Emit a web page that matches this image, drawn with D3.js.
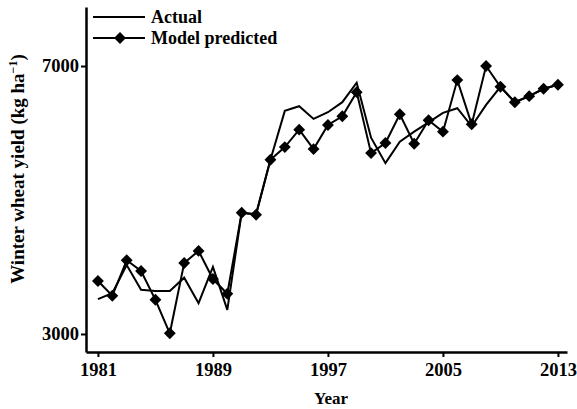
<!DOCTYPE html>
<html>
<head>
<meta charset="utf-8">
<script src="https://cdn.jsdelivr.net/npm/d3@7"></script>
<style>
  body { margin: 0; background: #fff; }
  text { font-family: "Liberation Serif", "Times New Roman", serif; }
</style>
</head>
<body>
<div id="chart"></div>
<script>
// data
var years = d3.range(1981, 2014);
var actual = [3520, 3610, 4030, 3660, 3640, 3640, 3840, 3460, 4000, 3360,
    4810, 4790, 5600, 6330, 6400, 6210, 6310, 6460, 6750, 5930,
    5550, 5870, 6020, 6160, 6300, 6370, 6100, 6420, 6690, 6460,
    6550, 6660, 6720];
var predicted = [3790, 3570, 4100, 3940, 3510, 3010, 4060, 4240, 3820, 3600,
    4810, 4780, 5600, 5790, 6050, 5760, 6120, 6250, 6610, 5700,
    5850, 6280, 5840, 6190, 6020, 6790, 6130, 7000, 6690, 6460,
    6550, 6660, 6720];
var xTicks = [1981, 1989, 1997, 2005, 2013];
var yTicks = [3000, 7000];
var seriesNames = ["Actual", "Model predicted"];

var width = 577, height = 409;
var svg = d3.select("#chart").append("svg")
    .attr("width", width).attr("height", height);

var x = d3.scaleLinear().domain([1980.17, 2013.63]).range([86, 567]);
var y = d3.scaleLinear().domain([2731, 7881]).range([352, 7]);

// axes
var xAxis = d3.axisBottom(x).tickValues(xTicks).tickFormat(d3.format("d")).tickSize(5).tickSizeOuter(0);
var yAxis = d3.axisLeft(y).tickValues(yTicks).tickFormat(d3.format("d")).tickSize(5).tickSizeOuter(0);

var gx = svg.append("g").attr("transform", "translate(0,352)").call(xAxis);
var gy = svg.append("g").attr("transform", "translate(86,0)").call(yAxis);
[gx, gy].forEach(function (g) {
    g.select(".domain").attr("stroke", "#000").attr("stroke-width", 2.5);
    g.selectAll(".tick line").attr("stroke", "#000").attr("stroke-width", 2);
    g.selectAll(".tick text")
        .attr("fill", "#000")
        .style("font-family", "'Liberation Serif', serif")
        .style("font-size", "18.5px")
        .style("font-weight", "bold");
});
gx.selectAll(".tick text").attr("dy", "0.85em");
gy.selectAll(".tick text").attr("x", -7);

// axis titles
svg.append("text")
    .attr("x", 331).attr("y", 404)
    .attr("text-anchor", "middle")
    .style("font-size", "17px").style("font-weight", "bold")
    .text("Year");

var yl = svg.append("text")
    .attr("transform", "translate(24,169) rotate(-90)")
    .attr("text-anchor", "middle")
    .style("font-size", "19px").style("font-weight", "bold");
yl.append("tspan").text("Winter wheat yield (kg ha");
yl.append("tspan").attr("dy", -7).style("font-size", "12px").text("\u22121");
yl.append("tspan").attr("dy", 7).text(")");

// lines
var line = d3.line()
    .x(function (d, i) { return x(years[i]); })
    .y(function (d) { return y(d); });

svg.append("path").datum(actual)
    .attr("fill", "none").attr("stroke", "#000").attr("stroke-width", 2)
    .attr("d", line);

svg.append("path").datum(predicted)
    .attr("fill", "none").attr("stroke", "#000").attr("stroke-width", 2)
    .attr("d", line);

var diamond = d3.symbol().type(d3.symbolDiamond2).size(90);
svg.selectAll(".pt").data(predicted).enter().append("path")
    .attr("class", "pt")
    .attr("transform", function (d, i) { return "translate(" + x(years[i]) + "," + y(d) + ")"; })
    .attr("d", diamond)
    .attr("fill", "#000");

// legend
var legend = svg.append("g");
seriesNames.forEach(function (name, i) {
    var ly = 17 + i * 21;
    legend.append("line")
        .attr("x1", 93).attr("x2", 145).attr("y1", ly).attr("y2", ly)
        .attr("stroke", "#000").attr("stroke-width", 2);
    if (i === 1) {
        legend.append("path")
            .attr("transform", "translate(120," + ly + ")")
            .attr("d", diamond).attr("fill", "#000");
    }
    legend.append("text")
        .attr("x", 151).attr("y", ly + 6)
        .style("font-size", "18px").style("font-weight", "bold")
        .text(name);
});
</script>
</body>
</html>
